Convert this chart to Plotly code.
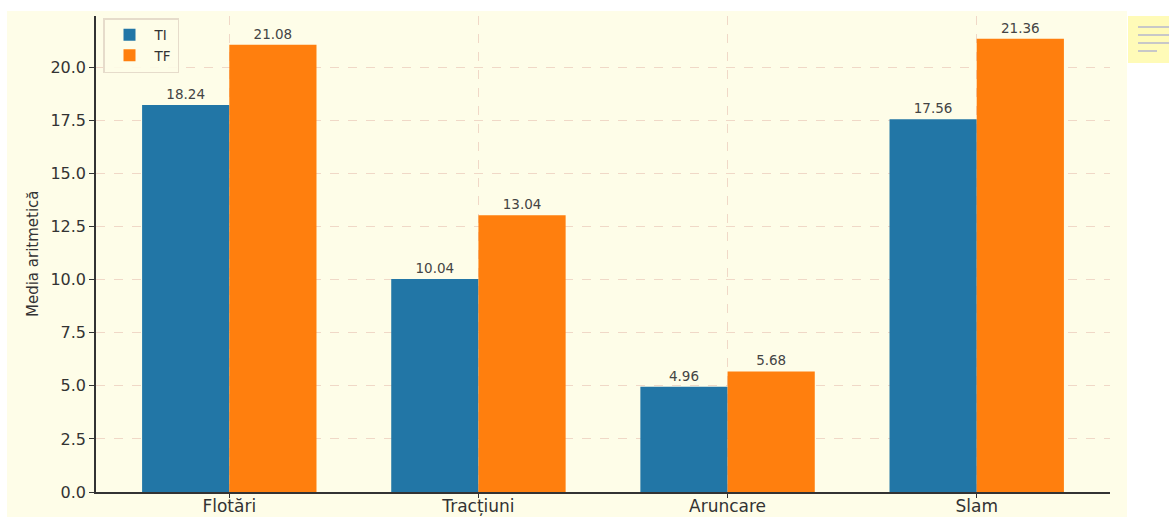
import plotly.graph_objects as go

categories = ["Flotări", "Tracțiuni", "Aruncare", "Slam"]
ti_values = [18.24, 10.04, 4.96, 17.56]
tf_values = [21.08, 13.04, 5.68, 21.36]
series_names = ["TI", "TF"]
y_ticks = [0, 2.5, 5, 7.5, 10, 12.5, 15, 17.5, 20]

W, H = 1169, 518
L, R, T, B = 96, 1110, 16, 492  # plot area in pixels


def px(x):
    return (x - L) / (R - L)


def py(y):
    return (B - y) / (B - T)


BG = "#fefde8"
FONT = "DejaVu Sans"

fig = go.Figure()
for name, vals, col in [(series_names[0], ti_values, "#2276a6"),
                        (series_names[1], tf_values, "#ff7f0e")]:
    fig.add_trace(go.Bar(
        x=categories, y=vals, name=name,
        marker=dict(color=col, line=dict(width=0)),
        text=[f"{v:.2f}" for v in vals],
        textposition="outside",
        textfont=dict(family=FONT, size=13.5, color="#444444"),
        cliponaxis=False,
    ))

shapes = [
    dict(type="rect", xref="paper", yref="paper", layer="below",
         x0=px(7), x1=px(1127), y0=py(517), y1=py(11),
         fillcolor=BG, line=dict(width=0)),
    dict(type="rect", xref="paper", yref="paper", layer="above",
         x0=px(1128), x1=px(1180), y0=py(63), y1=py(16),
         fillcolor="#fffbb8", line=dict(width=0)),
]
for yy, x1 in [(27, 1180), (35, 1180), (43, 1180), (51, 1157)]:
    shapes.append(dict(type="line", xref="paper", yref="paper", layer="above",
                       x0=px(1138), x1=px(x1), y0=py(yy), y1=py(yy),
                       line=dict(color="#c8c8c8", width=2)))

grid_col = "rgba(225,170,160,0.45)"
fig.update_layout(
    width=W, height=H,
    margin=dict(l=L, r=W - R, t=T, b=H - B, pad=0, autoexpand=False),
    paper_bgcolor="white",
    plot_bgcolor=BG,
    barmode="group",
    bargap=0.3,
    bargroupgap=0,
    font=dict(family=FONT, size=16, color="#333333"),
    showlegend=True,
    legend=dict(x=px(103), y=py(18), xanchor="left", yanchor="top",
                bgcolor="rgba(254,253,232,0.9)", bordercolor="#e6dccb",
                borderwidth=1.5, font=dict(family=FONT, size=13.5, color="#333333"),
                itemwidth=40, tracegroupgap=0, entrywidth=98,
                entrywidthmode="pixels"),
    shapes=shapes,
    annotations=[dict(text="Media aritmetică", xref="paper", yref="paper",
                      x=px(33), y=0.5, xanchor="center", yanchor="middle",
                      textangle=-90, showarrow=False,
                      font=dict(family=FONT, size=15, color="#333333"))],
    xaxis=dict(
        type="category", range=[-0.535, 3.535], automargin=False,
        showline=True, linecolor="#333333", linewidth=1.5,
        ticks="outside", ticklen=4, tickcolor="#333333",
        ticklabelstandoff=-6,
        showgrid=True, gridcolor=grid_col, griddash="dash", gridwidth=1,
        tickfont=dict(family=FONT, size=17, color="#333333"),
        layer="above traces", zeroline=False, mirror=False,
    ),
    yaxis=dict(
        range=[0, 22.43], automargin=False,
        tickvals=y_ticks, tickformat=".1f",
        showline=True, linecolor="#333333", linewidth=1.5,
        ticks="outside", ticklen=5, tickcolor="#333333",
        showgrid=True, gridcolor=grid_col, griddash="dash", gridwidth=1,
        tickfont=dict(family=FONT, size=16, color="#333333"),
        layer="above traces", zeroline=False,
    ),
)

fig.write_html(
    "out.html",
    config={"displayModeBar": False},
    post_script="document.body.style.margin='0';document.body.style.overflow='hidden';"
                "document.documentElement.style.overflow='hidden';",
)
